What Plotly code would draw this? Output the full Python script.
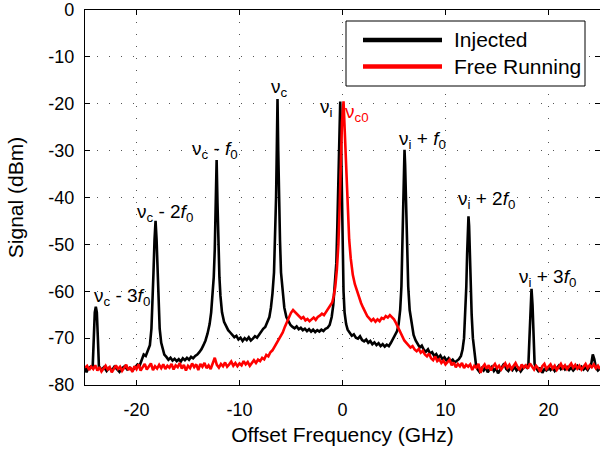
import plotly.graph_objects as go

# ---------------- data ----------------
freq_injected = [
    -25.0, -24.85, -24.7, -24.55, -24.4, -24.25, -24.15, -24.05, -23.95, -23.85, -23.75, -23.65,
    -23.4, -23.15, -22.9, -22.65, -22.4, -22.15, -21.9, -21.65, -21.4, -21.15, -20.9, -20.65,
    -20.4, -20.15, -19.9, -19.7, -19.5, -19.3, -19.1, -18.9, -18.7, -18.55, -18.45, -18.35,
    -18.25, -18.15, -18.05, -17.95, -17.85, -17.75, -17.6, -17.45, -17.3, -17.1, -16.9, -16.7,
    -16.5, -16.3, -16.1, -15.9, -15.7, -15.5, -15.3, -15.1, -14.9, -14.7, -14.5, -14.3,
    -14.1, -13.9, -13.7, -13.5, -13.3, -13.1, -12.9, -12.75, -12.6, -12.5, -12.4, -12.3,
    -12.22, -12.14, -12.05, -11.95, -11.85, -11.7, -11.5, -11.3, -11.1, -10.9, -10.7, -10.5,
    -10.3, -10.1, -9.9, -9.7, -9.5, -9.3, -9.1, -8.9, -8.7, -8.5, -8.3, -8.1,
    -7.9, -7.7, -7.5, -7.3, -7.1, -6.95, -6.8, -6.65, -6.55, -6.45, -6.38, -6.31,
    -6.24, -6.17, -6.07, -5.97, -5.82, -5.65, -5.45, -5.25, -5.05, -4.85, -4.65, -4.45,
    -4.25, -4.05, -3.85, -3.65, -3.45, -3.25, -3.05, -2.85, -2.65, -2.45, -2.25, -2.05,
    -1.85, -1.65, -1.45, -1.25, -1.05, -0.9, -0.75, -0.6, -0.5, -0.4, -0.3, -0.22,
    -0.14, -0.06, 0.02, 0.1, 0.2, 0.35, 0.5, 0.7, 0.9, 1.1, 1.3, 1.5,
    1.7, 1.9, 2.1, 2.3, 2.5, 2.7, 2.9, 3.1, 3.3, 3.5, 3.7, 3.9,
    4.1, 4.3, 4.5, 4.7, 4.9, 5.1, 5.3, 5.45, 5.6, 5.72, 5.82, 5.92,
    5.98, 6.02, 6.08, 6.15, 6.25, 6.38, 6.52, 6.7, 6.9, 7.1, 7.3, 7.5,
    7.7, 7.9, 8.1, 8.3, 8.5, 8.7, 8.9, 9.1, 9.3, 9.5, 9.7, 9.9,
    10.1, 10.3, 10.5, 10.7, 10.9, 11.1, 11.3, 11.5, 11.65, 11.8, 11.92, 12.02,
    12.1, 12.17, 12.23, 12.29, 12.36, 12.44, 12.54, 12.66, 12.8, 12.95, 13.1, 13.3,
    13.5, 13.7, 13.9, 14.1, 14.3, 14.5, 14.7, 14.9, 15.1, 15.3, 15.5, 15.7,
    15.9, 16.1, 16.3, 16.5, 16.7, 16.9, 17.1, 17.3, 17.5, 17.7, 17.9, 18.05,
    18.15, 18.25, 18.35, 18.45, 18.55, 18.65, 18.8, 19.0, 19.2, 19.4, 19.6, 19.8,
    20.0, 20.2, 20.4, 20.6, 20.8, 21.0, 21.2, 21.4, 21.6, 21.8, 22.0, 22.2,
    22.4, 22.6, 22.8, 23.0, 23.2, 23.4, 23.6, 23.8, 24.0, 24.15, 24.3, 24.45,
    24.6, 24.8, 25.0,
]
signal_injected = [
    -76.0, -77.3, -76.5, -76.2, -76.0, -76.0, -70.0, -64.5, -63.3, -64.5, -70.0, -76.0,
    -76.8, -76.2, -77.0, -76.3, -76.9, -76.1, -76.6, -77.2, -76.4, -76.0, -76.7, -76.3,
    -76.9, -76.2, -75.6, -75.9, -74.5, -73.5, -73.8, -72.5, -71.5, -68.0, -63.0, -56.0,
    -49.0, -45.0, -49.0, -56.0, -63.0, -68.0, -71.0, -72.5, -73.5, -74.0, -74.6, -74.2,
    -74.8, -74.4, -74.9, -74.5, -75.0, -74.3, -74.7, -74.2, -74.6, -74.0, -74.3, -73.8,
    -73.5, -73.0, -72.4, -71.5, -70.5, -69.0, -67.0, -64.5, -61.0, -57.0, -51.0, -41.0,
    -32.0, -41.0, -51.0, -57.0, -61.0, -64.5, -66.5, -67.5, -68.3, -68.8, -69.4, -69.8,
    -69.5, -70.3, -69.9, -70.6, -70.0, -70.4, -69.8, -70.5, -70.1, -69.6, -69.9, -69.2,
    -68.6, -68.0, -67.6, -66.5, -65.5, -63.5, -60.5, -56.0, -49.0, -40.0, -30.0, -19.0,
    -30.0, -40.0, -49.0, -56.0, -60.5, -63.5, -65.5, -66.5, -67.2, -67.6, -67.9, -67.5,
    -68.1, -67.8, -68.3, -68.0, -68.5, -68.1, -68.6, -68.2, -68.7, -68.3, -68.6, -68.2,
    -68.5, -68.0, -67.8, -67.2, -65.5, -63.0, -59.0, -54.0, -46.0, -37.0, -28.0, -19.5,
    -28.0, -40.0, -52.0, -60.0, -64.5, -67.0, -68.2, -68.8, -69.5, -69.2, -69.9, -70.1,
    -69.6, -70.4, -70.7, -70.3, -71.0, -70.6, -71.3, -70.9, -71.5, -71.1, -71.7, -71.3,
    -71.8, -71.4, -71.7, -71.0, -70.2, -69.5, -68.5, -67.0, -64.0, -59.0, -51.0, -40.0,
    -33.0, -29.8, -33.0, -40.0, -51.0, -59.0, -64.0, -67.0, -69.3, -70.5, -71.4, -72.0,
    -71.6, -72.5, -72.9, -72.4, -73.3, -73.0, -73.8, -73.4, -74.2, -73.7, -74.5, -74.1,
    -74.8, -74.3, -75.0, -74.6, -75.2, -74.8, -74.5, -73.8, -72.5, -70.0, -65.0, -59.0,
    -52.0, -46.0, -44.0, -46.0, -52.0, -59.0, -65.0, -70.0, -73.5, -75.5, -76.6, -77.2,
    -76.4, -76.9, -76.2, -77.3, -76.6, -76.1, -77.0, -76.4, -77.5, -76.8, -76.2, -75.4,
    -76.6, -77.0, -76.3, -76.8, -76.1, -76.9, -76.4, -77.1, -76.5, -76.0, -76.3, -75.5,
    -70.0, -63.0, -59.5, -63.0, -70.0, -75.5, -76.4, -77.0, -76.3, -77.4, -76.6, -76.9,
    -76.2, -76.8, -76.3, -77.0, -76.4, -75.9, -76.6, -76.1, -76.7, -76.2, -76.8, -76.3,
    -76.9, -76.4, -75.9, -76.5, -76.1, -76.7, -76.3, -76.8, -76.2, -75.5, -73.5, -74.5,
    -76.3, -76.9, -76.5,
]

freq_free = [
    -25.0, -24.8, -24.6, -24.4, -24.2, -24.0, -23.8, -23.6, -23.4, -23.2, -23.0, -22.8,
    -22.6, -22.4, -22.2, -22.0, -21.8, -21.6, -21.4, -21.2, -21.0, -20.8, -20.6, -20.4,
    -20.2, -20.0, -19.8, -19.6, -19.4, -19.2, -19.0, -18.8, -18.6, -18.4, -18.2, -18.0,
    -17.8, -17.6, -17.4, -17.2, -17.0, -16.8, -16.6, -16.4, -16.2, -16.0, -15.8, -15.6,
    -15.4, -15.2, -15.0, -14.8, -14.6, -14.4, -14.2, -14.0, -13.8, -13.6, -13.4, -13.2,
    -13.0, -12.8, -12.6, -12.4, -12.2, -12.0, -11.8, -11.6, -11.4, -11.2, -11.0, -10.8,
    -10.6, -10.4, -10.2, -10.0, -9.8, -9.6, -9.4, -9.2, -9.0, -8.8, -8.6, -8.4,
    -8.2, -8.0, -7.8, -7.6, -7.4, -7.2, -7.0, -6.8, -6.6, -6.4, -6.2, -6.0,
    -5.8, -5.6, -5.4, -5.2, -5.0, -4.8, -4.6, -4.4, -4.2, -4.0, -3.8, -3.6,
    -3.4, -3.2, -3.0, -2.8, -2.6, -2.4, -2.2, -2.0, -1.8, -1.6, -1.4, -1.2,
    -1.0, -0.85, -0.7, -0.55, -0.4, -0.28, -0.15, -0.05, 0.1, 0.22, 0.35, 0.5,
    0.65, 0.8, 1.0, 1.2, 1.4, 1.6, 1.8, 2.0, 2.2, 2.4, 2.6, 2.8,
    3.0, 3.2, 3.4, 3.6, 3.8, 4.0, 4.2, 4.4, 4.6, 4.8, 5.0, 5.2,
    5.4, 5.6, 5.8, 6.0, 6.2, 6.4, 6.6, 6.8, 7.0, 7.2, 7.4, 7.6,
    7.8, 8.0, 8.2, 8.4, 8.6, 8.8, 9.0, 9.2, 9.4, 9.6, 9.8, 10.0,
    10.2, 10.4, 10.6, 10.8, 11.0, 11.2, 11.4, 11.6, 11.8, 12.0, 12.2, 12.4,
    12.6, 12.8, 13.0, 13.2, 13.4, 13.6, 13.8, 14.0, 14.2, 14.4, 14.6, 14.8,
    15.0, 15.2, 15.4, 15.6, 15.8, 16.0, 16.2, 16.4, 16.6, 16.8, 17.0, 17.2,
    17.4, 17.6, 17.8, 18.0, 18.2, 18.4, 18.6, 18.8, 19.0, 19.2, 19.4, 19.6,
    19.8, 20.0, 20.2, 20.4, 20.6, 20.8, 21.0, 21.2, 21.4, 21.6, 21.8, 22.0,
    22.2, 22.4, 22.6, 22.8, 23.0, 23.2, 23.4, 23.6, 23.8, 24.0, 24.2, 24.4,
    24.6, 24.8, 25.0,
]
signal_free = [
    -76.3, -75.9, -76.8, -76.1, -76.6, -75.8, -76.9, -76.2, -77.1, -76.4, -75.9, -76.7,
    -76.2, -77.3, -76.5, -75.8, -76.6, -76.1, -77.0, -76.3, -75.7, -76.8, -76.2, -77.2,
    -76.0, -76.6, -75.6, -76.9, -76.3, -75.5, -76.7, -76.1, -75.4, -76.8, -76.0, -76.5,
    -75.7, -76.4, -75.6, -76.6, -75.9, -76.3, -75.5, -76.7, -75.8, -76.2, -75.3, -76.5,
    -75.7, -76.9, -75.9, -76.4, -75.4, -76.2, -75.6, -76.8, -75.5, -76.1, -75.3, -76.4,
    -75.8, -76.6, -75.4, -74.2, -75.7, -76.3, -75.5, -76.0, -75.2, -76.1, -75.6, -75.0,
    -75.9, -75.3, -76.0, -75.4, -75.8, -74.9, -75.6, -75.1, -75.9, -75.2, -74.7, -75.3,
    -74.6, -74.9, -74.2, -74.5, -73.6, -73.9, -73.0, -72.6, -71.8, -71.2, -70.4, -69.6,
    -68.8, -67.6, -66.6, -65.4, -64.6, -64.0, -64.4, -65.0, -65.3, -65.8, -65.5, -66.2,
    -65.9, -66.4, -66.0, -65.6, -66.1, -65.5, -65.2, -64.8, -65.1, -64.4, -63.8, -63.2,
    -62.4, -61.0, -59.0, -55.5, -50.0, -42.0, -32.0, -24.0, -19.5, -26.0, -36.0, -44.0,
    -49.0, -53.0, -56.5, -58.5, -60.0, -61.2, -62.5, -63.5, -64.5, -65.3, -65.8, -66.3,
    -65.9, -66.5, -66.0, -66.4, -65.7, -65.9, -65.3, -65.6, -65.1, -65.5, -66.0, -66.8,
    -67.7, -68.8, -69.8, -70.5, -71.0, -71.6, -72.0, -71.7, -72.4, -72.8, -72.3, -73.1,
    -72.7, -73.5, -73.9, -73.3, -74.3, -74.7, -73.9, -74.9, -74.5, -75.3, -74.8, -75.6,
    -75.1, -74.6, -75.8, -75.2, -76.2, -75.5, -76.0, -75.3, -76.4, -75.7, -76.1, -75.6,
    -76.8, -75.9, -76.3, -75.5, -77.4, -76.2, -75.6, -76.5, -75.8, -76.9, -76.1, -75.5,
    -76.4, -75.9, -76.7, -76.0, -75.4, -76.3, -75.7, -76.6, -76.0, -75.3, -76.2, -76.8,
    -75.6, -76.3, -75.8, -76.5, -75.4, -76.1, -76.7, -75.9, -76.4, -77.2, -76.0, -75.5,
    -76.6, -76.1, -75.6, -76.5, -75.9, -76.8, -76.2, -75.5, -76.4, -75.8, -76.6, -76.0,
    -75.4, -76.3, -75.7, -76.5, -75.9, -76.7, -76.1, -75.5, -76.4, -75.8, -76.2, -75.6,
    -76.4, -75.9, -76.6,
]

x_tick_vals = [-20, -10, 0, 10, 20]
x_tick_text = ["-20", "-10", "0", "10", "20"]
y_tick_vals = [-80, -70, -60, -50, -40, -30, -20, -10, 0]
y_tick_text = ["-80", "-70", "-60", "-50", "-40", "-30", "-20", "-10", "0"]

series_names = ["Injected", "Free Running"]
series_colors = ["#000000", "#ff0000"]

# peak labels: (text, x, y, colour)
peak_labels = [
    ("ν<sub>c</sub> - 3<i>f</i><sub>0</sub>", -21.4, -61.2, "#000000"),
    ("ν<sub>c</sub> - 2<i>f</i><sub>0</sub>", -17.2, -43.3, "#000000"),
    ("ν<sub>c</sub> - <i>f</i><sub>0</sub>", -12.4, -29.9, "#000000"),
    ("ν<sub>c</sub>", -6.1, -16.6, "#000000"),
    ("ν<sub>i</sub>", -1.6, -20.9, "#000000"),
    ("ν<sub>c0</sub>", 1.45, -21.9, "#ff0000"),
    ("ν<sub>i</sub> + <i>f</i><sub>0</sub>", 7.8, -27.8, "#000000"),
    ("ν<sub>i</sub> + 2<i>f</i><sub>0</sub>", 14.0, -40.6, "#000000"),
    ("ν<sub>i</sub> + 3<i>f</i><sub>0</sub>", 19.9, -57.1, "#000000"),
]

FONT = "Liberation Sans, Arial, Helvetica, sans-serif"

fig = go.Figure()
fig.add_trace(go.Scatter(x=freq_injected, y=signal_injected, mode="lines",
                         name=series_names[0], showlegend=False,
                         line=dict(color=series_colors[0], width=2.6)))
fig.add_trace(go.Scatter(x=freq_free, y=signal_free, mode="lines",
                         name=series_names[1], showlegend=False,
                         line=dict(color=series_colors[1], width=2.6)))

annotations = []
for txt, xx, yy, col in peak_labels:
    annotations.append(dict(x=xx, y=yy, xref="x", yref="y", text=txt, showarrow=False,
                            xanchor="center", yanchor="middle",
                            font=dict(family=FONT, size=19, color=col)))

# legend drawn as a boxed key (long line samples as in the reference)
shapes = [
    dict(type="rect", xref="paper", yref="paper", x0=(346 - 85) / 515, x1=(585 - 85) / 515,
         y0=(385 - 86) / 375, y1=(385 - 21) / 375,
         line=dict(color="black", width=1), fillcolor="white", layer="above"),
]
legend_rows_y = [40, 66.5]
for i in range(2):
    yy = (385 - legend_rows_y[i]) / 375
    shapes.append(dict(type="line", xref="paper", yref="paper",
                       x0=(363 - 85) / 515, x1=(442 - 85) / 515, y0=yy, y1=yy,
                       line=dict(color=series_colors[i], width=4.5), layer="above"))
    annotations.append(dict(x=(452 - 85) / 515, y=yy, xref="paper", yref="paper",
                            text=series_names[i], showarrow=False, xanchor="left",
                            yanchor="middle", font=dict(family=FONT, size=21, color="black")))

fig.update_layout(
    width=600, height=453,
    margin=dict(l=85, r=0, t=10, b=68),
    paper_bgcolor="white", plot_bgcolor="white",
    font=dict(family=FONT, size=18, color="black"),
    showlegend=False,
    annotations=annotations,
    shapes=shapes,
)
grid_style = dict(showgrid=True, gridcolor="#555555", gridwidth=1, griddash="1px,11px",
                  showline=True, linecolor="black", linewidth=1.3, mirror="ticks",
                  ticks="inside", ticklen=5, tickcolor="black", tickwidth=1,
                  zeroline=False, tickfont=dict(family=FONT, size=18, color="black"))
fig.update_xaxes(range=[-25, 25], tickvals=x_tick_vals, ticktext=x_tick_text,
                 title=dict(text="Offset Frequency (GHz)", font=dict(family=FONT, size=21),
                            standoff=8),
                 ticklabelstandoff=8, **grid_style)
fig.update_yaxes(range=[-80, 0], tickvals=y_tick_vals, ticktext=y_tick_text,
                 title=dict(text="Signal (dBm)", font=dict(family=FONT, size=21), standoff=18),
                 ticklabelstandoff=6, **grid_style)

fig.write_html("out.html")
